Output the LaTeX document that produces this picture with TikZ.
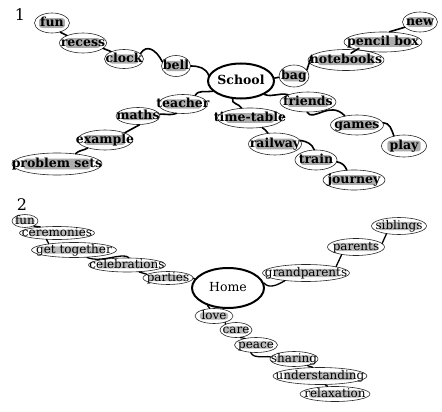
\documentclass[tikz,border=0pt]{standalone}
\usepackage{fontspec}
\setmainfont{DejaVu Serif}
\usetikzlibrary{shapes.geometric,calc}
\newcommand\zt[1]{\makebox[0pt]{\raisebox{-0.3em}[0pt][0pt]{#1}}}
\tikzset{
  grayfill/.style={path picture={\fill[#1, rounded corners=2.5pt] let \p1=(path picture bounding box.south west), \p2=(path picture bounding box.north east) in ({\x1+0.13*(\x2-\x1)},{\y1+0.26*(\y2-\y1)}) rectangle ({\x2-0.13*(\x2-\x1)},{\y2-0.26*(\y2-\y1)});}},
  bubA/.style 2 args={ellipse, draw=black!85, line width=0.6pt, inner sep=0pt,
    minimum width=#1pt, minimum height=#2pt, grayfill=gray!65,
    font=\fontsize{12.5}{13}\selectfont\bfseries},
  bubB/.style 2 args={ellipse, draw=black!85, line width=0.6pt, inner sep=0pt,
    minimum width=#1pt, minimum height=#2pt, grayfill=gray!55,
    font=\fontsize{12}{12}\selectfont},
  hub/.style 2 args={ellipse, draw, line width=2pt, inner sep=0pt,
    minimum width=#1pt, minimum height=#2pt},
  conA/.style={line width=1.6pt, line cap=round},
  conB/.style={line width=1.3pt, line cap=round},
  numlab/.style={font=\fontsize{16}{16}\selectfont, inner sep=0pt}
}
\begin{document}
\begin{tikzpicture}[x=1pt,y=-1pt]
\useasboundingbox (0,0) rectangle (442,412);
% ---------- section 1 ----------
\node[numlab] (lab1) at (20,15) {1};
\node[bubA={35}{20}] (fun1) at (52,23) {\zt{fun}};
\node[bubA={47}{20}] (recess) at (83,43) {\zt{recess}};
\node[bubA={39}{19}] (clock) at (124,59) {\zt{clock}};
\node[bubA={29}{21}] (bell) at (176,66) {\zt{bell}};
\node[hub={66}{35}, font=\fontsize{12.5}{13}\selectfont\bfseries] (school) at (241,81) {\zt{School}};
\node[bubA={30}{22}] (bag) at (294,76) {\zt{bag}};
\node[bubA={76}{21}] (notebooks) at (346,60) {\zt{notebooks}};
\node[bubA={78}{20}] (pencilbox) at (383,42) {\zt{pencil box}};
\node[bubA={35}{20}] (new) at (420,22) {\zt{new}};
\node[bubA={49}{19}] (teacher) at (183,104) {\zt{teacher}};
\node[bubA={44}{17}] (maths) at (138,116) {\zt{maths}};
\node[bubA={55}{20}] (example) at (105,140) {\zt{example}};
\node[bubA={90}{22}] (problemsets) at (57,164) {\zt{problem sets}};
\node[bubA={56}{20}] (friends) at (308,102) {\zt{friends}};
\node[bubA={65}{20}] (timetable) at (250,118) {\zt{time-table}};
\node[bubA={53}{20}] (games) at (357,125) {\zt{games}};
\node[bubA={45}{22}] (play) at (404,146) {\zt{play}};
\node[bubA={53}{22}] (railway) at (275,144) {\zt{railway}};
\node[bubA={42}{20}] (train) at (316,160) {\zt{train}};
\node[bubA={62}{20}] (journey) at (354,180) {\zt{journey}};

\draw[conA] (fun1.-48) -- (recess.155);
\draw[conA] (recess.-15) -- (clock.150);
\draw[conA] (clock.18) .. controls +(6,-10) and +(-6,-12) .. (bell.163);
\draw[conA] (bell.east) to[out=0,in=110] (school.170);
\draw[conA] (school.5) -- (bag.185);
\draw[conA] (bag.25) -- (notebooks.172);
\draw[conA] ($(notebooks.north)+(5,4)$) -- ($(pencilbox.south)+(-24,-4)$);
\draw[conA] (pencilbox.58) -- (new.199);
\draw[conA] (school.200) to[out=190,in=60] (teacher.35);
\draw[conA] (teacher.235) .. controls +(-6,2) and +(8,0) .. (maths.5);
\draw[conA] (maths.-80) -- (example.20);
\draw[conA] (example.205) to[out=210,in=45] (problemsets.29);
\draw[conA] (school.245) to[out=250,in=120] (timetable.130);
\draw[conA] (timetable.-38) to[out=-60,in=100] (railway.123);
\draw[conA] (railway.8) to[out=-10,in=110] (train.100);
\draw[conA] (train.-5) to[out=-10,in=110] (journey.126);
\draw[conA] (school.330) to[out=-20,in=165] (friends.160);
\draw[conA] (friends.-95) .. controls +(6,10) and +(-15,-16) .. (games.143);
\draw[conA] (games.5) to[out=0,in=110] (play.135);

% ---------- section 2 ----------
\node[numlab] (lab2) at (22,205) {2};
\node[bubB={26}{13}] (fun2) at (25,221) {\zt{fun}};
\node[bubB={75}{13}] (ceremonies) at (57,233) {\zt{ceremonies}};
\node[bubB={85}{15}] (gettogether) at (74,250) {\zt{get together}};
\node[bubB={77}{14}] (celebrations) at (127,265) {\zt{celebrations}};
\node[bubB={50}{13}] (parties) at (168,278) {\zt{parties}};
\node[hub={72}{40}, font=\fontsize{12.5}{13}\selectfont] (home) at (228,288) {\zt{Home}};
\node[bubB={87}{17}] (grandparents) at (306,273) {\zt{grandparents}};
\node[bubB={57}{17}] (parents) at (356,247) {\zt{parents}};
\node[bubB={55}{17}] (siblings) at (399,226) {\zt{siblings}};
\node[bubB={38}{15}] (love) at (214,316) {\zt{love}};
\node[bubB={32}{15}] (care) at (236,330) {\zt{care}};
\node[bubB={43}{15}] (peace) at (256,345) {\zt{peace}};
\node[bubB={48}{15}] (sharing) at (294,359) {\zt{sharing}};
\node[bubB={94}{17}] (understanding) at (320,376) {\zt{understanding}};
\node[bubB={70}{15}] (relaxation) at (335,394) {\zt{relaxation}};

\draw[conB] (fun2.-30) -- (ceremonies.160);
\draw[conB] (ceremonies.212) -- (gettogether.166);
\draw[conB] (gettogether.-30) .. controls +(15,6) and +(-6,-6) .. (celebrations.75);
\draw[conB] (celebrations.-30) -- (parties.170);
\draw[conB] (parties.east) -- (home.165);
\draw[conB] (home.8) to[out=-50,in=210] (grandparents.200);
\draw[conB] (grandparents.12) -- (parents.208);
\draw[conB] (parents.8) -- (siblings.212);
\draw[conB] (home.220) -- (love.119);
\draw[conB] (love.-30) -- (care.150);
\draw[conB] (care.-60) -- (peace.150);
\draw[conB] (peace.235) to[out=-60,in=170] (sharing.175);
\draw[conB] (sharing.-26) -- (understanding.130);
\draw[conB] (understanding.-59) -- (relaxation.134);
\end{tikzpicture}
\end{document}
